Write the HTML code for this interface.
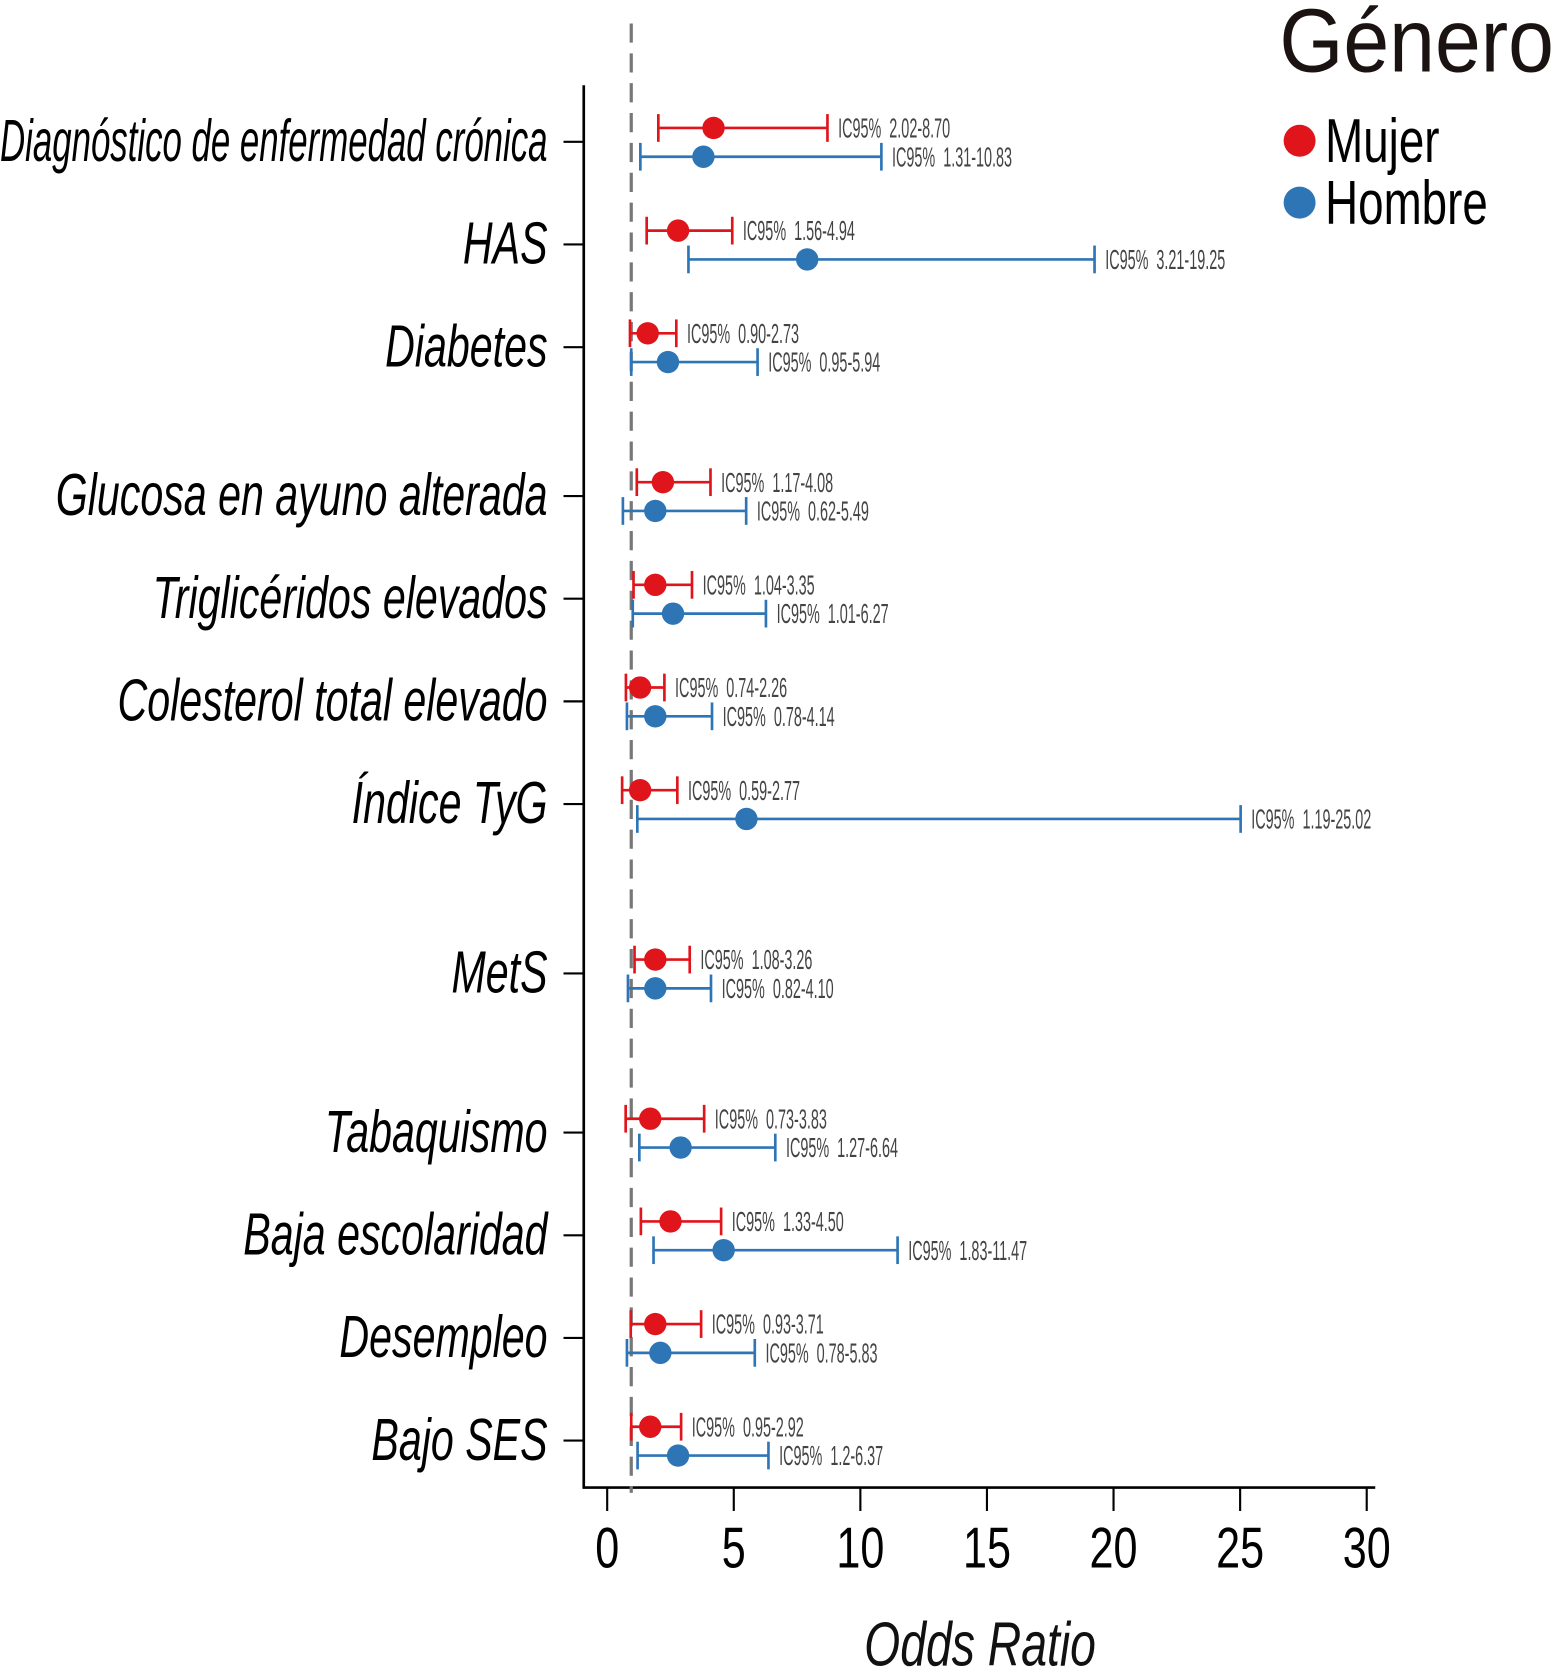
<!DOCTYPE html>
<html><head><meta charset="utf-8"><style>
html,body{margin:0;padding:0;background:#fff;}
svg{display:block;}
text{font-family:"Liberation Sans",sans-serif;}
</style></head>
<body>
<svg id="chart" width="1551" height="1672" viewBox="0 0 1456 1568" preserveAspectRatio="none" xmlns="http://www.w3.org/2000/svg"></svg>
<script>
const categories = ["Diagnóstico de enfermedad crónica","HAS","Diabetes","Glucosa en ayuno alterada","Triglicéridos elevados","Colesterol total elevado","Índice TyG","MetS","Tabaquismo","Baja escolaridad","Desempleo","Bajo SES"];
const rowPos = [0,1,2,3.45,4.45,5.45,6.45,8.1,9.65,10.65,11.65,12.65];
const mujerOR = [4.2,2.8,1.6,2.2,1.9,1.3,1.3,1.9,1.7,2.5,1.9,1.7];
const mujerLo = [2.02,1.56,0.90,1.17,1.04,0.74,0.59,1.08,0.73,1.33,0.93,0.95];
const mujerHi = [8.70,4.94,2.73,4.08,3.35,2.26,2.77,3.26,3.83,4.50,3.71,2.92];
const mujerLabels = ["2.02-8.70","1.56-4.94","0.90-2.73","1.17-4.08","1.04-3.35","0.74-2.26","0.59-2.77","1.08-3.26","0.73-3.83","1.33-4.50","0.93-3.71","0.95-2.92"];
const hombreOR = [3.8,7.9,2.4,1.9,2.6,1.9,5.5,1.9,2.9,4.6,2.1,2.8];
const hombreLo = [1.31,3.21,0.95,0.62,1.01,0.78,1.19,0.82,1.27,1.83,0.78,1.2];
const hombreHi = [10.83,19.25,5.94,5.49,6.27,4.14,25.02,4.10,6.64,11.47,5.83,6.37];
const hombreLabels = ["1.31-10.83","3.21-19.25","0.95-5.94","0.62-5.49","1.01-6.27","0.78-4.14","1.19-25.02","0.82-4.10","1.27-6.64","1.83-11.47","0.78-5.83","1.2-6.37"];
const xTicks = [0,5,10,15,20,25,30];

const NS="http://www.w3.org/2000/svg";
const svg=document.getElementById('chart');
const X0=570, XU=(1283-570)/30;
const xs=v=>X0+v*XU;
const Y0=133, YU=(1351-133)/12.65;
const ys=r=>Y0+r*YU;
function mk(tag,attrs,parent){const e=document.createElementNS(NS,tag);for(const k in attrs)e.setAttribute(k,attrs[k]);(parent||svg).appendChild(e);return e;}

let e=mk('line',{x1:548,y1:80,x2:548,y2:1396,stroke:'#000','stroke-width':2.5});


e=mk('line',{x1:547,y1:1395,x2:1291,y2:1395,stroke:'#000','stroke-width':2.5});


xTicks.forEach(t=>{
  let l=mk('line',{x1:xs(t),y1:1395,x2:xs(t),y2:1417,stroke:'#000','stroke-width':2});
  
  
  let tx=mk('text',{transform:`translate(${xs(t)},1470) scale(0.75,1)`,'text-anchor':'middle','font-size':54,fill:'#000'});
  tx.textContent=t;
  
  
});
e=mk('text',{transform:'translate(920,1562) scale(0.75,1)','text-anchor':'middle','font-size':58,'font-style':'italic',fill:'#111'});
e.textContent='Odds Ratio';



e=mk('line',{x1:xs(0.95),y1:22,x2:xs(0.95),y2:1400,stroke:'#777','stroke-width':3,'stroke-dasharray':'18,10'});



const RED='#e0141b', BLUE='#2e75b6';
categories.forEach((c,i)=>{
  const y=ys(rowPos[i]);
  let tk=mk('line',{x1:529,y1:y,x2:548,y2:y,stroke:'#000','stroke-width':2});
  
  
  let lb=mk('text',{transform:`translate(514,${y+18}) scale(0.69,1)`,'text-anchor':'end','font-size':56,'font-style':'italic',fill:'#000'});
  lb.textContent=c;
  
  
  const w=lb.getComputedTextLength();
  if(w*0.69>514){lb.setAttribute('transform',`translate(514,${y+18}) scale(${514/w},1)`);}
  const series=[[mujerOR,mujerLo,mujerHi,mujerLabels,RED,-13,'mujer'],[hombreOR,hombreLo,hombreHi,hombreLabels,BLUE,14,'hombre']];
  series.forEach(([or,lo,hi,lab,col,off,nm])=>{
    const yy=y+off;
    const g=mk('g',{});
    
    
    mk('line',{x1:xs(lo[i]),y1:yy,x2:xs(hi[i]),y2:yy,stroke:col,'stroke-width':2.5},g);
    mk('line',{x1:xs(lo[i]),y1:yy-13,x2:xs(lo[i]),y2:yy+13,stroke:col,'stroke-width':2.5},g);
    mk('line',{x1:xs(hi[i]),y1:yy-13,x2:xs(hi[i]),y2:yy+13,stroke:col,'stroke-width':2.5},g);
    mk('circle',{cx:xs(or[i]),cy:yy,r:10.5,fill:col},g);
    let t=mk('text',{transform:`translate(${xs(hi[i])+10},${yy+9}) scale(0.52,1)`,'font-size':26,fill:'#444'},g);
    t.textContent='IC95%\u00a0\u00a0'+lab[i];
  });
});

e=mk('text',{transform:'translate(1201,67) scale(0.92,1)','font-size':84,fill:'#1a1311'});
e.textContent='Género';


[['Mujer',RED,132],['Hombre',BLUE,190]].forEach(([n,c,y])=>{
  const g=mk('g',{});
  
  
  mk('circle',{cx:1220,cy:y,r:15,fill:c},g);
  const t=mk('text',{transform:`translate(1244,${y+20}) scale(0.74,1)`,'font-size':58,fill:'#000'},g);
  t.textContent=n;
});
</script>
</body></html>
